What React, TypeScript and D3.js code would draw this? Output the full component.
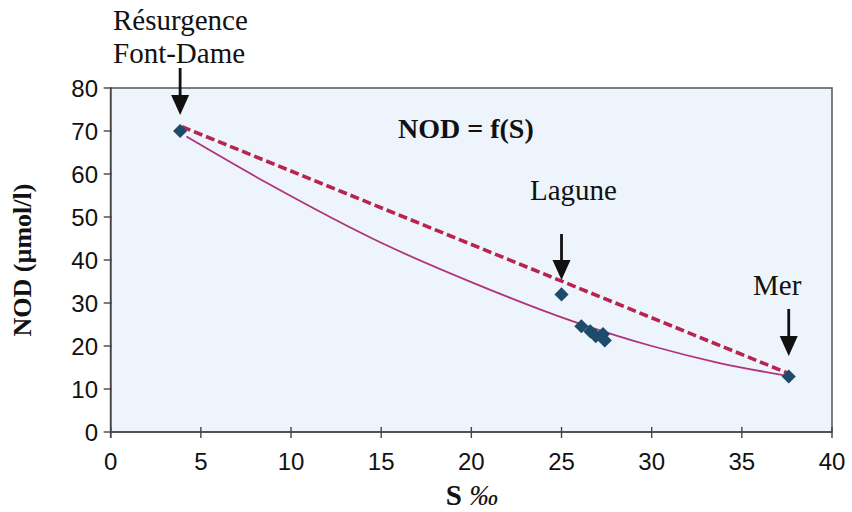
import React from "react";
import * as d3 from "d3";

const W = 852;
const H = 512;

// Data
const pointS = [3.85, 25.0, 26.1, 26.6, 26.9, 27.3, 27.4, 37.6];
const pointNOD = [70.0, 32.0, 24.6, 23.4, 22.3, 22.8, 21.3, 12.9];

const dilutionS = [3.95, 37.6];
const dilutionNOD = [71.0, 13.6];

const fitS = [4.2, 8.8, 15.0, 20.5, 25.6, 30.0, 33.7, 37.6];
const fitNOD = [68.7, 57.6, 44.0, 34.0, 25.8, 20.0, 16.1, 13.0];

const xTicks = [0, 5, 10, 15, 20, 25, 30, 35, 40];
const yTicks = [0, 10, 20, 30, 40, 50, 60, 70, 80];

const annotations = [
  { lines: ["Résurgence", "Font-Dame"], s: 3.85, tx: 113, ty: 30, a0: 68, a1: 115 },
  { lines: ["Lagune"], s: 25.0, tx: 530, ty: 200, a0: 234, a1: 280 },
  { lines: ["Mer"], s: 37.6, tx: 753, ty: 295, a0: 309, a1: 356 },
];

export default function App() {
  const x = d3.scaleLinear().domain([0, 40]).range([110.7, 832]);
  const y = d3.scaleLinear().domain([0, 80]).range([432, 88]);

  const fitLine = d3
    .line<number>()
    .x((_, i) => x(fitS[i]))
    .y((_, i) => y(fitNOD[i]))
    .curve(d3.curveMonotoneX);

  const dilLine = d3
    .line<number>()
    .x((_, i) => x(dilutionS[i]))
    .y((_, i) => y(dilutionNOD[i]));

  const diamond = d3.symbol().type(d3.symbolSquare).size(100)();

  const x0 = x(0), x1 = x(40), y0 = y(0), y1 = y(80);
  const serif = "'Liberation Serif', 'Times New Roman', serif";
  const sans = "'Liberation Sans', Arial, sans-serif";

  return (
    <svg width={W} height={H} style={{ position: "absolute", left: 0, top: 0, background: "#fff" }}>
      {/* plot area */}
      <rect x={x0} y={y1} width={x1 - x0} height={y0 - y1} fill="#edf4fb" stroke="#5a5f64" strokeWidth={1.6} />

      {/* y axis ticks */}
      {yTicks.map((t) => (
        <g key={"y" + t}>
          <line x1={x0 - 7} x2={x0 + 1} y1={y(t)} y2={y(t)} stroke="#444" strokeWidth={1.4} />
          <text x={98} y={y(t)} dy="0.36em" textAnchor="end" fontFamily={sans} fontSize={24} fill="#111">
            {t}
          </text>
        </g>
      ))}
      <line x1={x0} x2={x0} y1={y1} y2={y0 + 6} stroke="#444" strokeWidth={1.6} />

      {/* x axis ticks */}
      {xTicks.map((t) => (
        <g key={"x" + t}>
          <line x1={x(t)} x2={x(t)} y1={y0 - 5} y2={y0 + 6} stroke="#444" strokeWidth={1.4} />
          <text x={x(t)} y={470} textAnchor="middle" fontFamily={sans} fontSize={24} fill="#111">
            {t}
          </text>
        </g>
      ))}
      <line x1={x0} x2={x1} y1={y0} y2={y0} stroke="#444" strokeWidth={1.6} />

      {/* fitted curve */}
      <path d={fitLine(fitS) || ""} fill="none" stroke="#b0337a" strokeWidth={1.8} />
      {/* dilution line */}
      <path d={dilLine(dilutionS) || ""} fill="none" stroke="#b8244f" strokeWidth={3.6} strokeDasharray="9 4" />

      {/* points */}
      {pointS.map((s, i) => (
        <path key={"p" + i} d={diamond || ""} transform={`translate(${x(s)},${y(pointNOD[i])}) rotate(45)`} fill="#1d4b6b" />
      ))}

      {/* annotations */}
      {annotations.map((a, i) => {
        const ax = x(a.s);
        return (
          <g key={"a" + i}>
            {a.lines.map((l, j) => (
              <text key={j} x={a.tx} y={a.ty + j * 33} fontFamily={serif} fontSize={29} fill="#111">
                {l}
              </text>
            ))}
            <line x1={ax} x2={ax} y1={a.a0} y2={a.a1 - 14} stroke="#111" strokeWidth={2.8} />
            <path d={`M${ax - 9},${a.a1 - 20} L${ax + 9},${a.a1 - 20} L${ax},${a.a1} Z`} fill="#111" />
          </g>
        );
      })}

      <text x={398} y={138} fontFamily={serif} fontWeight="bold" fontSize={28} fill="#111">
        NOD = f(S)
      </text>

      {/* axis titles */}
      <text
        transform={`translate(31,${(y0 + y1) / 2}) rotate(-90)`}
        textAnchor="middle"
        fontFamily={serif}
        fontWeight="bold"
        fontSize={26}
        fill="#111"
      >
        NOD (µmol/l)
      </text>
      <text x={472} y={505} textAnchor="middle" fontFamily={serif} fontWeight="bold" fontSize={29} fill="#111">
        S <tspan fontStyle="italic" fontWeight="normal">‰</tspan>
      </text>
    </svg>
  );
}
